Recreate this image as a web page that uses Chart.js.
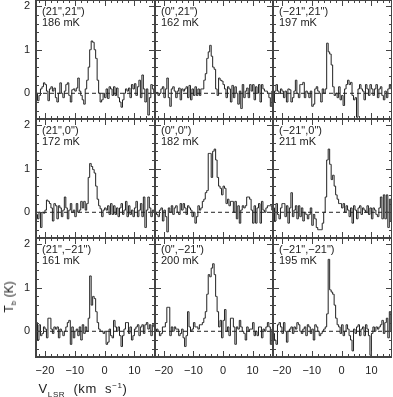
<!DOCTYPE html>
<html>
<head>
<meta charset="utf-8">
<script src="https://cdn.jsdelivr.net/npm/chart.js@4.4.1/dist/chart.umd.min.js"></script>
<style>
body { margin: 0; background: #fff; }
#wrap { position: relative; width: 393px; height: 397px; overflow: hidden; font-family: "Liberation Sans", Arial, sans-serif; color: #222; }
#wrap canvas { position: absolute; }
.ttl { position: absolute; font-size: 12px; white-space: nowrap; z-index: 2; line-height: 14px; }
.ttl sub, .ttl sup { font-size: 8px; line-height: 0; }
#xtitle { font-size: 13px; letter-spacing: 0.6px; word-spacing: 4px; }
</style>
</head>
<body>
<div id="wrap">
  <div class="ttl" style="left:9px;top:297px;transform:translate(-50%,-50%) rotate(-90deg)">T<sub>b</sub> (K)</div>
  <div class="ttl" id="xtitle" style="left:83px;top:389px;transform:translate(-50%,-50%)">V<sub>LSR</sub> (km s<sup>−1</sup>)</div>
</div>
<script>
// channel centres, km/s
const velocity = [
  -22.75,-22.25,-21.75,-21.25,-20.75,-20.25,-19.75,-19.25,-18.75,-18.25,
  -17.75,-17.25,-16.75,-16.25,-15.75,-15.25,-14.75,-14.25,-13.75,-13.25,
  -12.75,-12.25,-11.75,-11.25,-10.75,-10.25,-9.75,-9.25,-8.75,-8.25,
  -7.75,-7.25,-6.75,-6.25,-5.75,-5.25,-4.75,-4.25,-3.75,-3.25,
  -2.75,-2.25,-1.75,-1.25,-0.75,-0.25,0.25,0.75,1.25,1.75,
  2.25,2.75,3.25,3.75,4.25,4.75,5.25,5.75,6.25,6.75,
  7.25,7.75,8.25,8.75,9.25,9.75,10.25,10.75,11.25,11.75,
  12.25,12.75,13.25,13.75,14.25,14.75,15.25,15.75,16.25,16.75
];

const offsets = ['(21",21")', '(0",21")', '(\u221221",21")',
                 '(21",0")', '(0",0")', '(\u221221",0")',
                 '(21",\u221221")', '(0",\u221221")', '(\u221221",\u221221")'];
const rmsLabels = ['186 mK', '162 mK', '197 mK',
                   '172 mK', '182 mK', '211 mK',
                   '161 mK', '200 mK', '195 mK'];

const xTicks = [-20, -10, 0, 10];
const yTicks = [0, 1, 2];

// Tb (K) per channel, one array per position
const spec21_21 = [
  0.0,-0.17,-0.05,0.1,0.15,0.24,0.2,0.05,-0.17,0.1,
  0.15,0.05,0.12,-0.1,-0.2,0.0,0.24,0.0,-0.1,0.05,
  0.2,0.24,-0.05,-0.2,0.08,0.1,0.05,0.12,0.35,0.05,
  -0.05,-0.15,-0.25,0.1,0.3,0.6,1.0,1.2,1.17,1.0,
  0.8,0.3,0.0,-0.2,-0.15,0.0,-0.1,0.1,-0.12,0.15,
  0.1,-0.05,0.15,-0.05,0.12,-0.1,-0.2,-0.32,-0.15,0.0,
  0.1,0.05,0.12,-0.1,0.2,0.1,0.22,-0.05,0.15,0.3,
  -0.1,0.42,0.1,-0.2,0.1,-0.5,-0.1,0.2,0.1,0.0
];
const spec0_21 = [
  0.0,0.02,-0.05,0.0,0.1,0.15,-0.1,0.1,0.35,-0.1,
  -0.3,0.1,0.15,0.05,-0.1,0.05,0.12,-0.15,0.1,0.05,
  0.1,0.15,-0.1,0.18,-0.15,0.1,-0.05,0.15,-0.05,0.1,
  -0.05,0.1,0.1,0.3,0.45,0.8,0.95,1.1,0.85,0.6,
  0.55,0.1,-0.05,0.35,0.3,0.28,0.2,0.1,-0.1,0.15,
  0.1,-0.2,0.18,-0.1,0.15,0.0,-0.25,0.05,-0.35,0.2,
  -0.1,0.05,0.12,-0.1,0.2,0.05,0.2,-0.15,0.15,0.0,
  0.2,-0.2,0.2,0.1,0.05,0.05,0.0,-0.1,-0.3,0.05
];
const specM21_21 = [
  -0.2,0.05,0.2,0.05,0.0,0.1,0.05,-0.1,0.05,-0.2,
  0.1,0.08,-0.2,-0.1,0.05,0.3,0.0,-0.1,0.2,0.2,
  0.25,-0.1,0.05,0.0,-0.1,0.05,-0.3,-0.25,0.1,0.15,
  0.05,0.0,-0.2,0.1,0.0,0.1,1.15,0.95,0.9,0.65,
  0.15,-0.05,0.0,-0.1,0.15,-0.15,-0.05,-0.28,0.1,0.2,
  0.3,0.2,0.25,-0.05,-0.15,-0.1,-0.55,0.1,0.2,0.1,
  0.05,-0.15,0.2,0.1,-0.05,0.2,0.1,-0.05,0.1,0.2,
  -0.1,0.1,0.15,-0.05,-0.15,0.05,-0.1,0.1,0.2,0.1
];
const spec21_0 = [
  -0.05,-0.15,0.0,-0.35,0.0,-0.02,0.05,0.28,0.25,0.2,
  0.1,-0.2,0.2,0.15,-0.15,0.15,0.1,-0.1,0.05,0.35,
  0.1,-0.15,0.05,0.2,0.0,0.05,-0.1,0.2,0.0,0.05,
  0.25,0.1,0.25,0.05,0.2,0.8,1.12,1.05,0.98,0.9,
  0.6,0.3,0.15,0.08,-0.1,0.05,0.1,0.05,0.15,-0.05,
  0.2,-0.05,0.15,-0.05,0.1,-0.1,0.1,0.2,-0.05,0.05,
  0.25,-0.1,0.15,-0.05,0.05,-0.1,0.1,0.25,-0.1,0.05,
  0.2,-0.1,0.35,-0.35,0.05,0.35,0.1,-0.1,0.05,0.0
];
const spec0_0 = [
  0.0,-0.05,-0.1,0.05,0.1,-0.2,0.05,-0.1,-0.45,0.1,
  0.0,0.15,-0.05,0.1,0.15,0.0,-0.05,0.2,0.05,0.2,
  0.1,-0.05,0.15,0.1,0.05,-0.1,0.0,-0.25,-0.1,0.15,
  0.05,0.1,0.25,0.3,0.45,0.5,1.35,1.35,0.8,1.4,
  1.45,1.2,0.8,0.6,0.55,0.4,0.6,0.55,0.2,0.3,
  0.15,0.25,0.25,0.0,0.25,-0.15,0.15,-0.25,0.05,0.15,
  0.1,0.15,0.35,0.35,0.3,0.05,-0.25,0.15,-0.25,0.1,
  0.2,-0.25,0.25,0.05,0.0,0.1,0.15,0.15,0.15,0.05
];
const specM21_0 = [
  0.1,-0.2,0.2,-0.05,-0.15,0.1,0.2,0.2,-0.1,0.15,
  -0.25,0.1,0.45,-0.1,0.05,0.15,-0.15,0.15,-0.1,0.1,
  -0.2,0.0,-0.05,-0.15,-0.05,0.1,-0.3,-0.05,-0.15,-0.35,
  -0.4,-0.4,-0.4,-0.25,0.0,0.35,1.2,1.45,1.1,0.75,
  0.85,0.6,0.4,0.3,0.2,0.2,0.1,0.2,0.0,0.15,
  0.05,-0.1,0.1,-0.25,0.15,0.05,-0.15,0.1,0.15,-0.05,
  0.1,0.05,0.0,0.15,-0.05,0.1,-0.15,0.1,0.05,-0.05,
  -0.1,0.1,0.35,-0.15,0.4,-0.15,0.4,-0.35,0.3,-0.2
];
const spec21_M21 = [
  0.2,-0.2,0.15,-0.1,-0.05,0.1,0.05,-0.15,0.3,0.3,
  0.05,-0.05,0.1,0.05,0.1,-0.15,0.05,0.0,-0.1,0.0,
  0.1,0.2,0.25,-0.3,0.1,-0.15,0.0,0.05,-0.1,0.1,
  -0.2,0.15,-0.05,0.1,0.0,0.3,1.27,0.6,0.8,0.75,
  0.45,0.2,0.05,0.0,0.0,-0.05,0.0,-0.3,-0.25,0.05,
  -0.1,-0.15,0.25,0.1,0.0,0.1,-0.1,-0.35,-0.1,0.05,
  0.2,0.2,-0.05,0.1,-0.2,-0.1,0.05,0.1,0.15,-0.1,
  0.1,0.15,-0.05,0.15,0.2,0.05,0.15,-0.1,0.15,0.1
];
const spec0_M21 = [
  0.0,0.05,0.0,-0.1,-0.05,0.1,0.1,0.2,0.55,0.55,
  -0.1,0.1,0.0,0.1,0.05,0.05,-0.1,-0.05,0.05,-0.15,
  -0.35,-0.1,0.45,0.1,0.0,0.05,0.2,0.1,0.1,0.05,
  0.15,0.15,0.2,0.3,0.45,0.85,1.3,1.25,1.45,1.55,
  1.3,0.8,0.45,0.1,0.25,-0.15,0.25,0.5,0.0,0.1,
  -0.1,0.3,0.3,0.1,-0.3,0.1,0.05,0.25,0.1,0.0,
  -0.05,-0.2,0.1,0.0,0.05,0.05,0.2,-0.1,0.0,-0.1,
  0.1,0.1,-0.15,0.05,0.0,0.1,0.2,0.1,-0.3,0.05
];
const specM21_M21 = [
  -0.05,-0.2,-0.3,0.15,0.2,0.1,-0.05,0.2,0.0,-0.25,
  0.0,0.05,0.1,-0.05,0.1,0.05,0.2,0.15,0.0,-0.05,
  0.05,0.1,-0.1,0.15,0.1,-0.05,0.05,-0.2,0.15,0.1,
  0.0,-0.1,-0.05,0.0,0.05,0.1,0.4,1.65,0.95,0.9,
  0.85,0.6,0.3,0.15,0.1,-0.05,0.15,-0.1,0.0,0.15,
  0.05,-0.1,-0.2,-0.45,0.05,-0.05,0.1,0.15,-0.1,0.05,
  0.1,-0.1,0.15,0.05,-0.1,-0.55,-0.05,0.1,0.0,0.1,
  0.05,0.1,0.15,0.25,-0.05,0.2,0.3,-0.15,0.45,0.0
];

const spectra = [spec21_21, spec0_21, specM21_21,
                 spec21_0, spec0_0, specM21_0,
                 spec21_M21, spec0_M21, specM21_M21];

// layout of the 3x3 grid (pixels)
const colEdges = [36, 155, 273, 392];
const rowEdges = [0, 119, 238, 357];
const xMin = -23, xMax = 16.9, yMin = -0.59, yMax = 2.14;
const ink = '#222';
const frameInk = '#444';
const fontFamily = '"Liberation Sans", Arial, sans-serif';

const fmt = v => v < 0 ? '\u2212' + (-v) : String(v);

// frame, inward ticks and the two label lines inside each panel
const panelPlugin = {
    id: 'panel',
    afterDatasetsDraw(chart, args, opts) {
        const { ctx, chartArea: a, scales: { x, y } } = chart;
        ctx.save();
        ctx.strokeStyle = frameInk;
        ctx.lineWidth = 1;
        ctx.beginPath();
        for (let k = -11; k <= 8; k++) {
            const px = Math.round(x.getPixelForValue(k * 2)) + 0.5;
            const len = k % 5 === 0 ? 6 : 3;
            ctx.moveTo(px, a.bottom); ctx.lineTo(px, a.bottom - len);
            ctx.moveTo(px, a.top); ctx.lineTo(px, a.top + len);
        }
        for (let k = -2; k <= 10; k++) {
            const py = Math.round(y.getPixelForValue(k * 0.2)) + 0.5;
            const len = k % 5 === 0 ? 6 : 3;
            ctx.moveTo(a.left, py); ctx.lineTo(a.left + len, py);
            ctx.moveTo(a.right, py); ctx.lineTo(a.right - len, py);
        }
        ctx.stroke();
        ctx.lineWidth = 2;
        ctx.strokeRect(a.left, a.top, a.right - a.left, a.bottom - a.top);
        ctx.fillStyle = ink;
        ctx.font = '11px ' + fontFamily;
        ctx.textBaseline = 'middle';
        ctx.fillText(opts.offset, a.left + 6, a.top + 12);
        ctx.fillText(opts.rms, a.left + 6, a.top + 23);
        ctx.restore();
    }
};

const wrap = document.getElementById('wrap');

spectra.forEach((spec, k) => {
    const r = Math.floor(k / 3), c = k % 3;
    const isLeft = c === 0, isBottom = r === 2;
    const left = isLeft ? 0 : colEdges[c];
    const top = rowEdges[r];
    const w = colEdges[c + 1] - left;
    const h = (isBottom ? 397 : rowEdges[r + 1]) - top;

    const cv = document.createElement('canvas');
    cv.width = w; cv.height = h;
    cv.style.left = left + 'px'; cv.style.top = top + 'px';
    cv.style.width = w + 'px'; cv.style.height = h + 'px';
    wrap.appendChild(cv);

    new Chart(cv, {
        type: 'line',
        data: {
            datasets: [{
                data: velocity.map((v, i) => ({ x: v, y: spec[i] })),
                stepped: 'middle',
                borderColor: ink,
                borderWidth: 1,
                pointRadius: 0
            }, {
                data: [{ x: xMin, y: 0 }, { x: xMax, y: 0 }],
                borderColor: ink,
                borderWidth: 1,
                borderDash: [4, 3],
                pointRadius: 0
            }]
        },
        options: {
            responsive: false,
            animation: false,
            devicePixelRatio: 1,
            events: [],
            layout: { padding: 0 },
            plugins: {
                legend: { display: false },
                tooltip: { enabled: false },
                panel: { offset: offsets[k], rms: rmsLabels[k] }
            },
            scales: {
                x: {
                    type: 'linear', min: xMin, max: xMax,
                    grid: { display: false, drawTicks: false },
                    border: { display: false },
                    ticks: {
                        display: isBottom, stepSize: 10, padding: 7, color: ink,
                        font: { family: fontFamily, size: 11 },
                        maxRotation: 0, autoSkip: false, callback: fmt
                    },
                    afterBuildTicks: s => { s.ticks = xTicks.map(v => ({ value: v })); },
                    afterFit: s => {
                        s.height = isBottom ? 40 : 0;
                        s.paddingLeft = 0; s.paddingRight = 0;
                    }
                },
                y: {
                    type: 'linear', min: yMin, max: yMax,
                    grid: { display: false, drawTicks: false },
                    border: { display: false },
                    ticks: {
                        display: isLeft, stepSize: 1, padding: 6, color: ink,
                        font: { family: fontFamily, size: 11 },
                        callback: fmt
                    },
                    afterBuildTicks: s => { s.ticks = yTicks.map(v => ({ value: v })); },
                    afterFit: s => {
                        s.width = isLeft ? 36 : 0;
                        s.paddingTop = 0; s.paddingBottom = 0;
                    }
                }
            }
        },
        plugins: [panelPlugin]
    });
});
</script>
</body>
</html>
